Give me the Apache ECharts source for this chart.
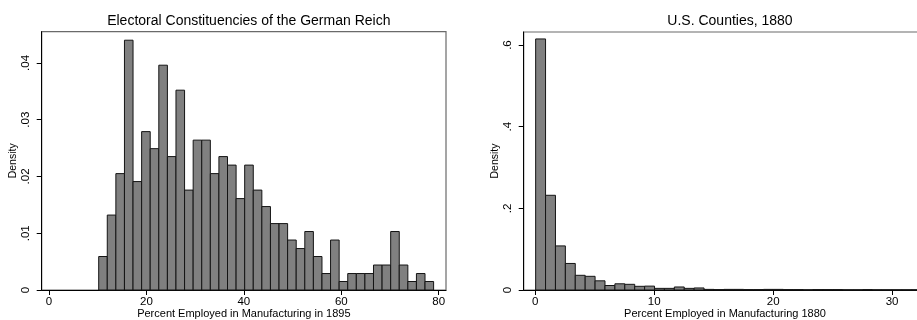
<!DOCTYPE html>
<html>
<head>
<meta charset="utf-8">
<script src="https://cdn.jsdelivr.net/npm/echarts@6/dist/echarts.min.js"></script>
<style>
  html, body { margin: 0; padding: 0; background: #fff; overflow: hidden; }
  #chart { width: 917px; height: 320px; }
</style>
</head>
<body>
<div id="chart"></div>
<script>
// Histogram of manufacturing employment shares, German Reich constituencies (1895)
const germanBinStart = 10.2;
const germanBinWidth = 1.763;
const germanDensity = [
  0.0059, 0.0132, 0.0205, 0.0440, 0.0191, 0.0279, 0.0249, 0.0396, 0.0235, 0.0352,
  0.0176, 0.0264, 0.0264, 0.0205, 0.0235, 0.0220, 0.0161, 0.0220, 0.0176, 0.0147,
  0.0117, 0.0117, 0.0088, 0.0073, 0.0103, 0.0059, 0.0029, 0.0088, 0.0015, 0.0029,
  0.0029, 0.0029, 0.0044, 0.0044, 0.0103, 0.0044, 0.0015, 0.0029, 0.0015
];
const germanXTicks = [0, 20, 40, 60, 80];
const germanYTicks = [0, 0.01, 0.02, 0.03, 0.04];

// Histogram of manufacturing employment shares, U.S. counties (1880)
const usBinStart = 0.03;
const usBinWidth = 0.833;
const usDensity = [
  0.615, 0.232, 0.108, 0.065, 0.036, 0.0335, 0.0225, 0.011, 0.0152, 0.0139,
  0.009, 0.0095, 0.004, 0.004, 0.0074, 0.004, 0.005, 0.0015, 0.001, 0.0015,
  0.0015, 0.001, 0.001, 0.0015, 0.0015, 0.001, 0.001, 0.0005, 0.001, 0.001,
  0.001, 0.0005, 0.0005, 0.001, 0.0005, 0.0005, 0.0005, 0.0005, 0.0005, 0.0005
];
const usXTicks = [0, 10, 20, 30];
const usYTicks = [0, 0.2, 0.4, 0.6];

const FONT = '"Liberation Sans", Arial, Helvetica, sans-serif';

function bins(start, width, dens) {
  return dens.map((d, i) => [start + i * width, start + (i + 1) * width, d]);
}

function renderBar(params, api) {
  const p0 = api.coord([api.value(0), 0]);
  const p1 = api.coord([api.value(1), api.value(2)]);
  return {
    type: 'rect',
    shape: { x: p0[0], y: p1[1], width: p1[0] - p0[0], height: p0[1] - p1[1] },
    style: { fill: '#808080', stroke: '#141414', lineWidth: 1 }
  };
}

function stripZero(v) {
  return String(+v.toFixed(4)).replace(/^0\./, '.');
}

function xAxisDef(gridIndex, min, max, ticks, name) {
  return {
    type: 'value', gridIndex, min, max,
    splitLine: { show: false },
    axisLine: { show: true, onZero: false, lineStyle: { color: '#000', width: 1 } },
    axisTick: { show: true, length: 5, customValues: ticks, lineStyle: { color: '#000' } },
    axisLabel: { customValues: ticks, color: '#000', fontSize: 11.5, fontFamily: FONT, margin: 6,
                 formatter: v => String(v) },
    name, nameLocation: 'middle', nameGap: 18, nameMoveOverlap: false,
    nameTextStyle: { color: '#000', fontSize: 11, fontFamily: FONT }
  };
}

function yAxisDef(gridIndex, min, max, ticks, gap) {
  return {
    type: 'value', gridIndex, min, max,
    splitLine: { show: false },
    axisLine: { show: true, onZero: false, lineStyle: { color: '#000', width: 1 } },
    axisTick: { show: true, length: 5, customValues: ticks, lineStyle: { color: '#000' } },
    axisLabel: { customValues: ticks, color: '#000', fontSize: 11.5, fontFamily: FONT, rotate: 90,
                 margin: 10, formatter: stripZero },
    name: 'Density', nameLocation: 'middle', nameGap: gap, nameMoveOverlap: false,
    nameTextStyle: { color: '#000', fontSize: 10.5, fontFamily: FONT }
  };
}

const chart = echarts.init(document.getElementById('chart'), null, { renderer: 'canvas' });
chart.setOption({
  animation: false,
  backgroundColor: '#fff',
  title: [
    { text: 'Electoral Constituencies of the German Reich', left: 243.8, top: 9, textAlign: 'center',
      textStyle: { fontSize: 14, fontWeight: 'normal', color: '#000', fontFamily: FONT } },
    { text: 'U.S. Counties, 1880', left: 725, top: 9, textAlign: 'center',
      textStyle: { fontSize: 14, fontWeight: 'normal', color: '#000', fontFamily: FONT } }
  ],
  grid: [
    { left: 41.7, top: 31.7, right: 471, bottom: 30, show: true, borderColor: '#6a6a6a', borderWidth: 1.2,
      outerBoundsMode: 'none', containLabel: false },
    { left: 523.7, top: 32, right: -9.3, bottom: 30, show: true, borderColor: '#6a6a6a', borderWidth: 1.2,
      outerBoundsMode: 'none', containLabel: false }
  ],
  xAxis: [
    xAxisDef(0, -1.5, 81.5, germanXTicks, 'Percent Employed in Manufacturing in 1895'),
    xAxisDef(1, -0.975, 32.88, usXTicks, 'Percent Employed in Manufacturing 1880')
  ],
  yAxis: [
    yAxisDef(0, 0, 0.0455, germanYTicks, 23),
    yAxisDef(1, 0, 0.632, usYTicks, 23)
  ],
  series: [
    { type: 'custom', xAxisIndex: 0, yAxisIndex: 0, renderItem: renderBar,
      encode: { x: [0, 1], y: 2 }, data: bins(germanBinStart, germanBinWidth, germanDensity) },
    { type: 'custom', xAxisIndex: 1, yAxisIndex: 1, renderItem: renderBar,
      encode: { x: [0, 1], y: 2 }, data: bins(usBinStart, usBinWidth, usDensity) }
  ]
});
</script>
</body>
</html>
